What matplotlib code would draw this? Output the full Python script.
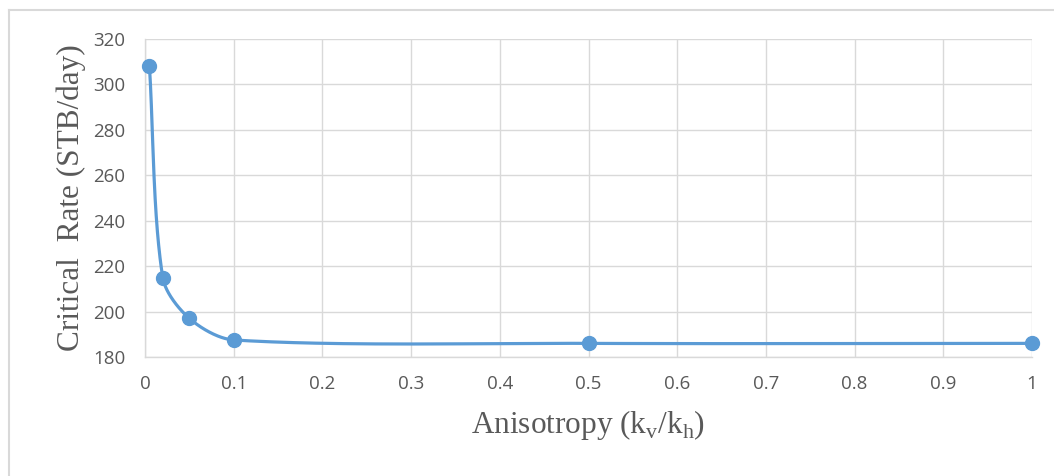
import numpy as np
import matplotlib
matplotlib.use("Agg")
import matplotlib.pyplot as plt
from matplotlib.lines import Line2D

plt.rcParams["mathtext.fontset"] = "custom"
plt.rcParams["mathtext.rm"] = "Liberation Serif"

# data
anisotropy = [0.005, 0.02, 0.05, 0.1, 0.5, 1.0]
critical_rate = [308, 215, 197, 187.5, 186, 186]

x_ticks = [0, 0.1, 0.2, 0.3, 0.4, 0.5, 0.6, 0.7, 0.8, 0.9, 1]
x_tick_labels = ["0", "0.1", "0.2", "0.3", "0.4", "0.5", "0.6", "0.7", "0.8", "0.9", "1"]
y_ticks = [180, 200, 220, 240, 260, 280, 300, 320]

LINE_COLOR = "#5b9bd5"
TEXT_COLOR = "#595959"
GRID_COLOR = "#d9d9d9"


def smooth_curve(xs, ys, n=80, k=0.3):
    """Smoothed line through the points: cubic Bezier segments, tangent
    direction from the neighbours, handle length from the segment chord."""
    pts = np.column_stack([np.asarray(xs, float), np.asarray(ys, float)])
    out = []
    t = np.linspace(0, 1, n)[:, None]
    for i in range(len(pts) - 1):
        p0 = pts[i - 1] if i > 0 else pts[i]
        p1 = pts[i]
        p2 = pts[i + 1]
        p3 = pts[i + 2] if i + 2 < len(pts) else pts[i + 1]
        chord = np.linalg.norm(p2 - p1)
        d1 = p2 - p0
        d2 = p3 - p1
        d1 = d1 / np.linalg.norm(d1)
        d2 = d2 / np.linalg.norm(d2)
        c1 = p1 + d1 * chord * k
        c2 = p2 - d2 * chord * k
        seg = ((1 - t) ** 3) * p1 + 3 * ((1 - t) ** 2) * t * c1 \
            + 3 * (1 - t) * t ** 2 * c2 + t ** 3 * p2
        out.append(seg)
    curve = np.vstack(out)
    return curve[:, 0], curve[:, 1]


fig = plt.figure(figsize=(10.54, 4.76), dpi=100)
ax = fig.add_axes([145 / 1054, 1 - 357 / 476, 887 / 1054, 318 / 476])

# chart border (only left and top edges visible in the crop)
fig.lines.append(Line2D([8.5 / 1054, 8.5 / 1054], [0, 1 - 10 / 476], transform=fig.transFigure,
                        color=GRID_COLOR, linewidth=1.5))
fig.lines.append(Line2D([8.5 / 1054, 1], [1 - 10 / 476, 1 - 10 / 476], transform=fig.transFigure,
                        color=GRID_COLOR, linewidth=1.5))

ax.set_xlim(0, 1)
ax.set_ylim(180, 320)
# the smoothing is done in pixel space so it looks like Excel's
disp = ax.transData.transform(np.column_stack([anisotropy, critical_rate]))
sx, sy = smooth_curve(disp[:, 0], disp[:, 1])
data_curve = ax.transData.inverted().transform(np.column_stack([sx, sy]))
ax.plot(data_curve[:, 0], data_curve[:, 1], color=LINE_COLOR, linewidth=2.3,
        solid_capstyle="round", zorder=3)
ax.plot(anisotropy, critical_rate, "o", color=LINE_COLOR, markersize=10, zorder=4,
        clip_on=False)

ax.set_xticks(x_ticks)
ax.set_xticklabels(x_tick_labels)
ax.set_yticks(y_ticks)
ax.grid(True, color=GRID_COLOR, linewidth=1)
ax.set_axisbelow(True)
for side in ["top", "right"]:
    ax.spines[side].set_visible(False)
for side in ["left", "bottom"]:
    ax.spines[side].set_color(GRID_COLOR)
    ax.spines[side].set_linewidth(1)
ax.tick_params(length=0, labelsize=13.5, colors=TEXT_COLOR)
ax.tick_params(axis="y", pad=14)
ax.tick_params(axis="x", pad=13)
for lab in ax.get_xticklabels() + ax.get_yticklabels():
    lab.set_family("Open Sans")

ax.set_xlabel(r"Anisotropy (k$_\mathregular{v}$/k$_\mathregular{h}$)", family="Liberation Serif",
              fontsize=22.5, color=TEXT_COLOR, labelpad=11)
ax.set_ylabel("Critical  Rate (STB/day)", family="Liberation Serif",
              fontsize=22.5, color=TEXT_COLOR, labelpad=5)

fig.savefig("out.png", dpi=100)
